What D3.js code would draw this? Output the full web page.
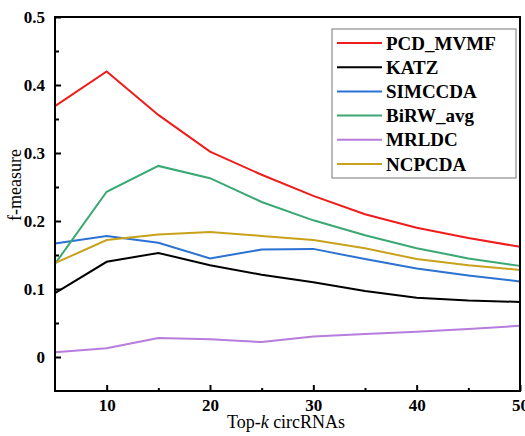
<!DOCTYPE html>
<html><head><meta charset="utf-8">
<script src="https://cdn.jsdelivr.net/npm/d3@7/dist/d3.min.js"></script>
<style>body{margin:0;background:#fff}svg{display:block}
svg text{font-family:"Liberation Serif","Times New Roman","DejaVu Serif",serif;}
</style>
</head><body>
<script>
const topK = [5,10,15,20,25,30,35,40,45,50];
const seriesNames = ["PCD_MVMF","KATZ","SIMCCDA","BiRW_avg","MRLDC","NCPCDA"];
const PCD_MVMF = [0.369,0.420,0.356,0.302,0.268,0.237,0.210,0.190,0.175,0.162];
const KATZ     = [0.094,0.140,0.153,0.135,0.121,0.110,0.097,0.087,0.083,0.081];
const SIMCCDA  = [0.167,0.178,0.168,0.145,0.158,0.159,0.144,0.130,0.120,0.111];
const BiRW_avg = [0.137,0.243,0.281,0.263,0.228,0.201,0.179,0.160,0.145,0.134];
const MRLDC    = [0.007,0.013,0.028,0.026,0.022,0.030,0.034,0.037,0.041,0.046];
const NCPCDA   = [0.138,0.172,0.180,0.184,0.178,0.172,0.160,0.144,0.135,0.128];
const yTicks = [0,0.1,0.2,0.3,0.4,0.5];
const xTicks = [10,20,30,40,50];
const colors = ["#f01c1c","#000000","#2b72d2","#3aa872","#b67ddc","#c9a11a"];
const values = [PCD_MVMF,KATZ,SIMCCDA,BiRW_avg,MRLDC,NCPCDA];

const W=525,H=436, L=55,R=520,T=17,B=391;
const svg=d3.select("body").append("svg").attr("width",W).attr("height",H);
const x=d3.scaleLinear().domain([5,50]).range([L,R]);
const y=d3.scaleLinear().domain([-0.05,0.5]).range([B,T]);

// lines
const line=d3.line().x((d,i)=>x(topK[i])).y(d=>y(d));
values.forEach((v,k)=>{
  svg.append("path").attr("d",line(v)).attr("fill","none")
    .attr("stroke",colors[k]).attr("stroke-width",2);
});

// frame
svg.append("rect").attr("x",L).attr("y",T).attr("width",R-L).attr("height",B-T)
  .attr("fill","none").attr("stroke","#000").attr("stroke-width",2);

// x axis
const xa=svg.append("g").attr("transform",`translate(0,${B})`)
  .call(d3.axisBottom(x).tickValues(xTicks).tickSizeInner(-6).tickSizeOuter(0).tickPadding(8).tickFormat(d3.format("d")));
xa.select(".domain").remove();
xa.selectAll("line").attr("stroke-width",2);
xa.selectAll("text").style("font-weight","bold").style("font-size","17px").attr("fill","#000");
const xm=svg.append("g").attr("transform",`translate(0,${B})`)
  .call(d3.axisBottom(x).tickValues([15,25,35,45]).tickSizeInner(-3).tickSizeOuter(0).tickFormat(""));
xm.select(".domain").remove(); xm.selectAll("line").attr("stroke-width",2);

// y axis
const ya=svg.append("g").attr("transform",`translate(${L},0)`)
  .call(d3.axisLeft(y).tickValues(yTicks).tickSizeInner(-6).tickSizeOuter(0).tickPadding(10).tickFormat(d=>d===0?"0":d3.format(".1f")(d)));
ya.select(".domain").remove();
ya.selectAll("line").attr("stroke-width",2);
ya.selectAll("text").style("font-weight","bold").style("font-size","17px").attr("fill","#000");
const ym=svg.append("g").attr("transform",`translate(${L},0)`)
  .call(d3.axisLeft(y).tickValues([0.05,0.15,0.25,0.35,0.45]).tickSizeInner(-4).tickSizeOuter(0).tickFormat(""));
ym.select(".domain").remove(); ym.selectAll("line").attr("stroke-width",2);

// axis titles
svg.append("text").attr("x",286).attr("y",428).attr("text-anchor","middle")
  .style("font-size","18px")
  .html("Top-<tspan font-style='italic'>k</tspan> circRNAs");
svg.append("text").attr("transform",`translate(21,185) rotate(-90)`).attr("text-anchor","middle")
  .style("font-size","18px").text("f-measure");

// legend
const lg=svg.append("g");
lg.append("rect").attr("x",332).attr("y",29).attr("width",184).attr("height",149)
  .attr("fill","#fff").attr("stroke","#777").attr("stroke-width",1);
seriesNames.forEach((n,k)=>{
  const yy=43+k*24.2;
  lg.append("line").attr("x1",337).attr("x2",382).attr("y1",yy).attr("y2",yy)
    .attr("stroke",colors[k]).attr("stroke-width",2);
  lg.append("text").attr("x",386).attr("y",yy+6.5)
    .style("font-weight","bold").style("font-size","19px").attr("fill","#000").text(n);
});
</script>
</body></html>
